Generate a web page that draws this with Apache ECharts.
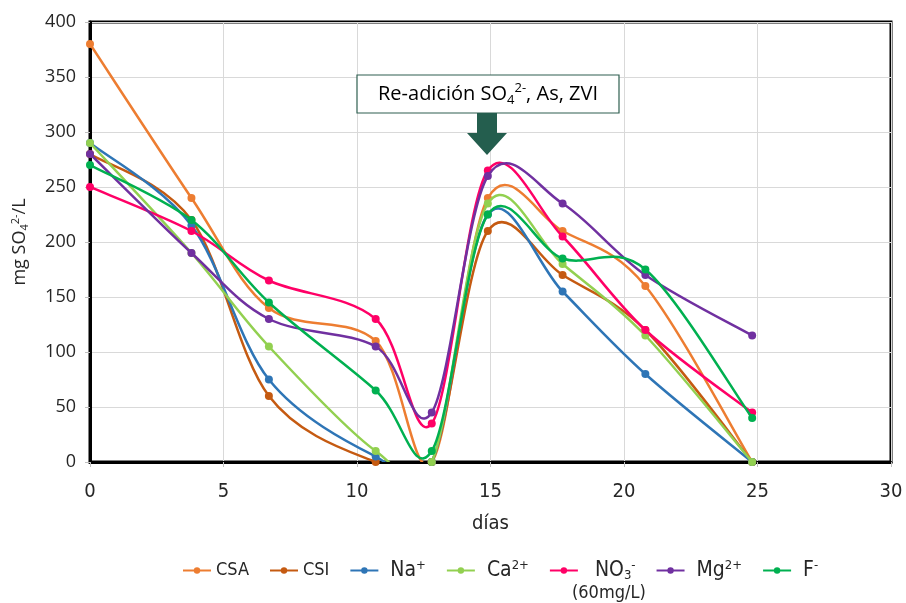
<!DOCTYPE html>
<html><head><meta charset="utf-8">
<script src="https://cdn.jsdelivr.net/npm/echarts@6/dist/echarts.min.js"></script>
<style>html,body{margin:0;padding:0;background:#fff}#c{width:906px;height:603px}</style>
</head><body><div id="c"></div>
<script>
const days = [0, 3.8, 6.7, 10.7, 12.8, 14.9, 17.7, 20.8, 24.8];
const seriesNames = ['CSA', 'CSI', 'Na+', 'Ca2+', 'NO3-', 'Mg2+', 'F-'];
const CSA = [380, 240, 140, 110, 0, 240, 210, 160, 0];
const CSI = [280, 220, 60, 0, 0, 210, 170, 120, 0];
const Na = [290, 215, 75, 5, 0, 225, 155, 80, 0];
const Ca = [290, 190, 105, 10, 0, 235, 180, 115, 0];
const NO3 = [250, 210, 165, 130, 35, 265, 205, 120, 45];
const Mg = [280, 190, 130, 105, 45, 260, 235, 170, 115];
const F = [270, 220, 145, 65, 10, 225, 185, 175, 40];
const xTicks = [0, 5, 10, 15, 20, 25, 30];
const yTicks = [0, 50, 100, 150, 200, 250, 300, 350, 400];

const values = [CSA, CSI, Na, Ca, NO3, Mg, F];
const colors = ['#ED7D31', '#C55A11', '#2E75B6', '#92D050', '#FF0066', '#7030A0', '#00B050'];
const font = '"DejaVu Sans Condensed", "Open Sans", sans-serif';
const yfont = '"Open Sans", sans-serif';

function smoothPath(pts) {
  let d = 'M' + pts[0][0] + ',' + pts[0][1];
  for (let i = 0; i < pts.length - 1; i++) {
    const p0 = pts[i - 1] || pts[i], p1 = pts[i], p2 = pts[i + 1], p3 = pts[i + 2] || pts[i + 1];
    const c1 = [p1[0] + (p2[0] - p0[0]) / 6, p1[1] + (p2[1] - p0[1]) / 6];
    const c2 = [p2[0] - (p3[0] - p1[0]) / 6, p2[1] - (p3[1] - p1[1]) / 6];
    d += ' C' + c1[0] + ',' + c1[1] + ' ' + c2[0] + ',' + c2[1] + ' ' + p2[0] + ',' + p2[1];
  }
  return d;
}

const legendText = {
  'CSA': '{a|CSA}', 'CSI': '{a|CSI}',
  'Na+': '{p| }{b|Na}{sup|+}', 'Ca2+': '{p| }{b|Ca}{sup|2+}', 'NO3-': '{q| }{b|NO}{sub|3}{sup|-}',
  'Mg2+': '{p| }{b|Mg}{sup|2+}', 'F-': '{p| }{b|F}{sup|-}'
};

const chart = echarts.init(document.getElementById('c'), null, {renderer: 'canvas'});
const curveSeries = seriesNames.map((n, i) => ({
  name: n + ' curve', type: 'custom', clip: true, z: 2 + 2 * i, silent: true,
  data: [[0, 0]],
  renderItem: (params, api) => {
    const pts = days.map((d, j) => api.coord([d, values[i][j]]));
    return {type: 'path', shape: {pathData: smoothPath(pts)},
      style: {fill: 'none', stroke: colors[i], lineWidth: 2.5}};
  }
}));
const markerSeries = seriesNames.map((n, i) => ({
  name: n, type: 'line',
  data: days.map((d, j) => [d, values[i][j]]),
  symbol: 'circle', symbolSize: 8,
  lineStyle: {width: 2.5, color: colors[i], opacity: 0},
  itemStyle: {color: colors[i]},
  z: 3 + 2 * i
}));
chart.setOption({
  animation: false,
  grid: {left: 90, right: 15, top: 22, bottom: 141, show: true, borderColor: '#000', borderWidth: 3, backgroundColor: 'transparent'},
  xAxis: {
    type: 'value', min: 0, max: 30, interval: 5,
    name: 'días', nameLocation: 'middle', nameGap: 52,
    nameTextStyle: {fontSize: 20, color: '#262626', fontFamily: font},
    axisLine: {lineStyle: {color: '#000', width: 3}},
    axisTick: {show: true, length: 5, lineStyle: {color: '#bfbfbf'}},
    axisLabel: {fontSize: 20, color: '#262626', margin: 20, fontFamily: font,
      formatter: v => xTicks.includes(v) ? String(v) : ''},
    splitLine: {show: true, lineStyle: {color: '#d9d9d9', width: 1}}
  },
  yAxis: {
    type: 'value', min: 0, max: 400, interval: 50,
    name: '{a|mg SO}{sub|4}{sup|2-}{a|/L}', nameLocation: 'middle', nameGap: 60, nameRotate: 90,
    nameTextStyle: {rich: {
      a: {fontSize: 18, color: '#262626', fontFamily: yfont},
      sub: {fontSize: 11, color: '#262626', fontFamily: yfont, verticalAlign: 'bottom', padding: [9, 0, 0, 0]},
      sup: {fontSize: 11, color: '#262626', fontFamily: yfont, verticalAlign: 'top', padding: [0, 0, 9, 0]}
    }},
    axisLine: {show: true, lineStyle: {color: '#000', width: 3}},
    axisTick: {show: true, length: 5, lineStyle: {color: '#bfbfbf'}},
    axisLabel: {fontSize: 18, color: '#262626', margin: 14, fontFamily: yfont,
      formatter: v => yTicks.includes(v) ? String(v) : ''},
    splitLine: {show: true, lineStyle: {color: '#d9d9d9', width: 1}}
  },
  legend: {
    bottom: 16, left: 177, itemWidth: 28, itemHeight: 8, itemGap: 20,
    data: seriesNames,
    lineStyle: {opacity: 1},
    textStyle: {fontFamily: font, fontSize: 19, color: '#262626',
      rich: {
        a: {fontSize: 18, fontFamily: font, color: '#262626'},
        b: {fontSize: 21, fontFamily: font, color: '#262626'},
        p: {width: 7, fontSize: 10},
        q: {width: 12, fontSize: 10},
        sup: {fontSize: 13, fontFamily: font, color: '#262626', verticalAlign: 'top', padding: [0, 0, 10, 0]},
        sub: {fontSize: 13, fontFamily: font, color: '#262626', verticalAlign: 'bottom', padding: [10, 0, 0, 0]}
      }},
    formatter: n => legendText[n]
  },
  graphic: [
    {type: 'rect', shape: {x: 357, y: 75, width: 262, height: 38}, style: {fill: '#fff', stroke: '#2F5F50', lineWidth: 1.2}, z: 100},
    {type: 'text', x: 488, y: 94, z: 101, style: {
      text: '{a|Re-adición SO}{sub|4}{sup|2-}{a|, As, ZVI}', align: 'center', verticalAlign: 'middle',
      rich: {
        a: {fontSize: 20, fontFamily: yfont, fill: '#000'},
        sub: {fontSize: 13, fontFamily: yfont, fill: '#000', verticalAlign: 'bottom', padding: [12, 0, 0, 0]},
        sup: {fontSize: 13, fontFamily: yfont, fill: '#000', verticalAlign: 'top', padding: [0, 0, 12, 0]}
      }}},
    {type: 'polygon', z: 100, shape: {points: [[477, 113], [497, 113], [497, 133], [507, 133], [487, 155], [467, 133], [477, 133]]},
      style: {fill: '#245E4E'}},
    {type: 'text', x: 572, y: 584, style: {text: '(60mg/L)', fontSize: 18, fontFamily: font, fill: '#262626'}}
  ],
  series: curveSeries.concat(markerSeries)
});
</script></body></html>
